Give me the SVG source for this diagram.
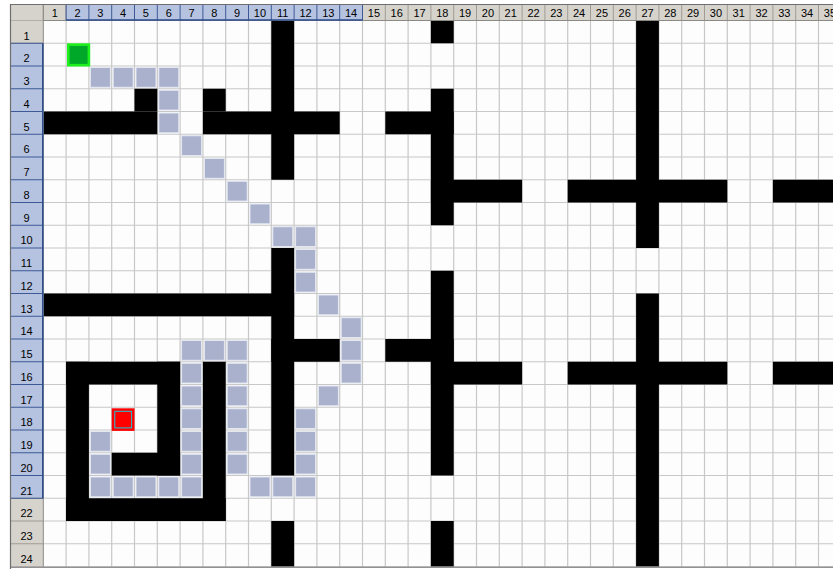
<svg xmlns="http://www.w3.org/2000/svg" width="833" height="569" viewBox="0 0 833 569">
<style>
.hd{font-family:"Liberation Sans",Arial,sans-serif;font-size:11px;fill:#000;text-anchor:middle}
.wall{fill:#000}
.grid{stroke:#c8c8c8;stroke-width:1.2;fill:none}
.hsepg{stroke:#a09c94;stroke-width:1;fill:none}
.hsepb{stroke:#3d5a96;stroke-width:1;fill:none}
</style>
<defs>
<rect id="p" width="20" height="19.8" fill="#a9b1cd" stroke="#e4e8f1" stroke-width="1"/>
</defs>
<rect x="0" y="0" width="833" height="569" fill="#fff"/>
<g id="cells">
<rect x="43.3" y="20.5" width="790" height="546" fill="#fdfdfd"/>
<path class="grid" d="M66.1 20.5V566.5M88.9 20.5V566.5M111.7 20.5V566.5M134.5 20.5V566.5M157.3 20.5V566.5M180.1 20.5V566.5M202.9 20.5V566.5M225.7 20.5V566.5M248.5 20.5V566.5M271.3 20.5V566.5M294.1 20.5V566.5M316.9 20.5V566.5M339.7 20.5V566.5M362.5 20.5V566.5M385.3 20.5V566.5M408.1 20.5V566.5M430.9 20.5V566.5M453.7 20.5V566.5M476.5 20.5V566.5M499.3 20.5V566.5M522.1 20.5V566.5M544.9 20.5V566.5M567.7 20.5V566.5M590.5 20.5V566.5M613.3 20.5V566.5M636.1 20.5V566.5M658.9 20.5V566.5M681.7 20.5V566.5M704.5 20.5V566.5M727.3 20.5V566.5M750.1 20.5V566.5M772.9 20.5V566.5M795.7 20.5V566.5M818.5 20.5V566.5M43.3 43.25H833M43.3 66H833M43.3 88.75H833M43.3 111.5H833M43.3 134.25H833M43.3 157H833M43.3 179.75H833M43.3 202.5H833M43.3 225.25H833M43.3 248H833M43.3 270.75H833M43.3 293.5H833M43.3 316.25H833M43.3 339H833M43.3 361.75H833M43.3 384.5H833M43.3 407.25H833M43.3 430H833M43.3 452.75H833M43.3 475.5H833M43.3 498.25H833M43.3 521H833M43.3 543.75H833"/>
</g>
<g id="walls" class="wall">
<rect x="271.3" y="20.5" width="22.8" height="159.25"/>
<rect x="430.9" y="20.5" width="22.8" height="22.75"/>
<rect x="636.1" y="20.5" width="22.8" height="227.5"/>
<rect x="134.5" y="88.75" width="22.8" height="22.75"/>
<rect x="202.9" y="88.75" width="22.8" height="22.75"/>
<rect x="430.9" y="88.75" width="22.8" height="136.5"/>
<rect x="43.3" y="111.5" width="114" height="22.75"/>
<rect x="202.9" y="111.5" width="136.8" height="22.75"/>
<rect x="385.3" y="111.5" width="68.4" height="22.75"/>
<rect x="430.9" y="179.75" width="91.2" height="22.75"/>
<rect x="567.7" y="179.75" width="159.6" height="22.75"/>
<rect x="772.9" y="179.75" width="61" height="22.75"/>
<rect x="271.3" y="248" width="22.8" height="227.5"/>
<rect x="430.9" y="270.75" width="22.8" height="204.75"/>
<rect x="636.1" y="293.5" width="22.8" height="273"/>
<rect x="43.3" y="293.5" width="250.8" height="22.75"/>
<rect x="271.3" y="339" width="68.4" height="22.75"/>
<rect x="385.3" y="339" width="68.4" height="22.75"/>
<rect x="430.9" y="361.75" width="91.2" height="22.75"/>
<rect x="567.7" y="361.75" width="159.6" height="22.75"/>
<rect x="772.9" y="361.75" width="61" height="22.75"/>
<rect x="66.1" y="361.75" width="114" height="22.75"/>
<rect x="66.1" y="361.75" width="22.8" height="159.25"/>
<rect x="66.1" y="498.25" width="159.6" height="22.75"/>
<rect x="202.9" y="361.75" width="22.8" height="159.25"/>
<rect x="157.3" y="361.75" width="22.8" height="113.75"/>
<rect x="111.7" y="452.75" width="68.4" height="22.75"/>
<rect x="271.3" y="521" width="22.8" height="45.5"/>
<rect x="430.9" y="521" width="22.8" height="45.5"/>
</g>
<g id="path">
<use href="#p" x="90.4" y="67.5"/>
<use href="#p" x="113.2" y="67.5"/>
<use href="#p" x="136" y="67.5"/>
<use href="#p" x="158.8" y="67.5"/>
<use href="#p" x="158.8" y="90.25"/>
<use href="#p" x="158.8" y="113"/>
<use href="#p" x="181.6" y="135.75"/>
<use href="#p" x="204.4" y="158.5"/>
<use href="#p" x="227.2" y="181.25"/>
<use href="#p" x="250" y="204"/>
<use href="#p" x="272.8" y="226.75"/>
<use href="#p" x="295.6" y="226.75"/>
<use href="#p" x="295.6" y="249.5"/>
<use href="#p" x="295.6" y="272.25"/>
<use href="#p" x="318.4" y="295"/>
<use href="#p" x="341.2" y="317.75"/>
<use href="#p" x="341.2" y="340.5"/>
<use href="#p" x="341.2" y="363.25"/>
<use href="#p" x="318.4" y="386"/>
<use href="#p" x="295.6" y="408.75"/>
<use href="#p" x="295.6" y="431.5"/>
<use href="#p" x="295.6" y="454.25"/>
<use href="#p" x="295.6" y="477"/>
<use href="#p" x="272.8" y="477"/>
<use href="#p" x="250" y="477"/>
<use href="#p" x="227.2" y="454.25"/>
<use href="#p" x="227.2" y="431.5"/>
<use href="#p" x="227.2" y="408.75"/>
<use href="#p" x="227.2" y="386"/>
<use href="#p" x="227.2" y="363.25"/>
<use href="#p" x="227.2" y="340.5"/>
<use href="#p" x="204.4" y="340.5"/>
<use href="#p" x="181.6" y="340.5"/>
<use href="#p" x="181.6" y="363.25"/>
<use href="#p" x="181.6" y="386"/>
<use href="#p" x="181.6" y="408.75"/>
<use href="#p" x="181.6" y="431.5"/>
<use href="#p" x="181.6" y="454.25"/>
<use href="#p" x="181.6" y="477"/>
<use href="#p" x="158.8" y="477"/>
<use href="#p" x="136" y="477"/>
<use href="#p" x="113.2" y="477"/>
<use href="#p" x="90.4" y="477"/>
<use href="#p" x="90.4" y="454.25"/>
<use href="#p" x="90.4" y="431.5"/>
</g>
<g id="start">
<rect x="68.3" y="44.6" width="20.6" height="20.6" fill="#00a82a" stroke="#1ef01e" stroke-width="2.6"/>
</g>
<g id="goal">
<rect x="111.7" y="408.3" width="22.8" height="22.6" fill="#ff0000"/>
<rect x="114.8" y="411.3" width="16.8" height="16.6" fill="#ff0000" stroke="#19c8d8" stroke-width="1"/>
</g>
<g id="col-headers">
<rect x="10" y="4" width="823" height="16.5" fill="#d6d3cc"/>
<rect x="66.1" y="4" width="296.4" height="16.5" fill="#b6c3e0"/>
<path class="hsepg" d="M43.3 4V20.5M66.1 4V20.5M385.3 4V20.5M408.1 4V20.5M430.9 4V20.5M453.7 4V20.5M476.5 4V20.5M499.3 4V20.5M522.1 4V20.5M544.9 4V20.5M567.7 4V20.5M590.5 4V20.5M613.3 4V20.5M636.1 4V20.5M658.9 4V20.5M681.7 4V20.5M704.5 4V20.5M727.3 4V20.5M750.1 4V20.5M772.9 4V20.5M795.7 4V20.5M818.5 4V20.5"/>
<path class="hsepb" d="M66.1 4V20.5M88.9 4V20.5M111.7 4V20.5M134.5 4V20.5M157.3 4V20.5M180.1 4V20.5M202.9 4V20.5M225.7 4V20.5M248.5 4V20.5M271.3 4V20.5M294.1 4V20.5M316.9 4V20.5M339.7 4V20.5M362.5 4V20.5"/>
<path d="M10 20.5H833" stroke="#8c8a84" stroke-width="1"/>
<path d="M66.1 20H362.5" stroke="#2b4a8c" stroke-width="1.5"/>
<text class="hd" x="54.7" y="16.5">1</text>
<text class="hd" x="77.5" y="16.5">2</text>
<text class="hd" x="100.3" y="16.5">3</text>
<text class="hd" x="123.1" y="16.5">4</text>
<text class="hd" x="145.9" y="16.5">5</text>
<text class="hd" x="168.7" y="16.5">6</text>
<text class="hd" x="191.5" y="16.5">7</text>
<text class="hd" x="214.3" y="16.5">8</text>
<text class="hd" x="237.1" y="16.5">9</text>
<text class="hd" x="259.9" y="16.5">10</text>
<text class="hd" x="282.7" y="16.5">11</text>
<text class="hd" x="305.5" y="16.5">12</text>
<text class="hd" x="328.3" y="16.5">13</text>
<text class="hd" x="351.1" y="16.5">14</text>
<text class="hd" x="373.9" y="16.5">15</text>
<text class="hd" x="396.7" y="16.5">16</text>
<text class="hd" x="419.5" y="16.5">17</text>
<text class="hd" x="442.3" y="16.5">18</text>
<text class="hd" x="465.1" y="16.5">19</text>
<text class="hd" x="487.9" y="16.5">20</text>
<text class="hd" x="510.7" y="16.5">21</text>
<text class="hd" x="533.5" y="16.5">22</text>
<text class="hd" x="556.3" y="16.5">23</text>
<text class="hd" x="579.1" y="16.5">24</text>
<text class="hd" x="601.9" y="16.5">25</text>
<text class="hd" x="624.7" y="16.5">26</text>
<text class="hd" x="647.5" y="16.5">27</text>
<text class="hd" x="670.3" y="16.5">28</text>
<text class="hd" x="693.1" y="16.5">29</text>
<text class="hd" x="715.9" y="16.5">30</text>
<text class="hd" x="738.7" y="16.5">31</text>
<text class="hd" x="761.5" y="16.5">32</text>
<text class="hd" x="784.3" y="16.5">33</text>
<text class="hd" x="807.1" y="16.5">34</text>
<text class="hd" x="829.9" y="16.5">35</text>
</g>
<g id="row-headers">
<rect x="10" y="20.5" width="33.3" height="546" fill="#d6d3cc"/>
<rect x="10" y="43.25" width="33.3" height="455" fill="#b6c3e0"/>
<path class="hsepg" d="M10 43.25H43.3M10 498.25H43.3M10 521H43.3M10 543.75H43.3"/>
<path class="hsepb" d="M10 43.25H43.3M10 66H43.3M10 88.75H43.3M10 111.5H43.3M10 134.25H43.3M10 157H43.3M10 179.75H43.3M10 202.5H43.3M10 225.25H43.3M10 248H43.3M10 270.75H43.3M10 293.5H43.3M10 316.25H43.3M10 339H43.3M10 361.75H43.3M10 384.5H43.3M10 407.25H43.3M10 430H43.3M10 452.75H43.3M10 475.5H43.3M10 498.25H43.3"/>
<path d="M43.3 4V566.5" stroke="#8c8a84" stroke-width="1"/>
<path d="M42.8 43.25V498.25" stroke="#2b4a8c" stroke-width="1.5"/>
<text class="hd" x="26.5" y="39.5">1</text>
<text class="hd" x="26.5" y="62.25">2</text>
<text class="hd" x="26.5" y="85">3</text>
<text class="hd" x="26.5" y="107.75">4</text>
<text class="hd" x="26.5" y="130.5">5</text>
<text class="hd" x="26.5" y="153.25">6</text>
<text class="hd" x="26.5" y="176">7</text>
<text class="hd" x="26.5" y="198.75">8</text>
<text class="hd" x="26.5" y="221.5">9</text>
<text class="hd" x="26.5" y="244.25">10</text>
<text class="hd" x="26.5" y="267">11</text>
<text class="hd" x="26.5" y="289.75">12</text>
<text class="hd" x="26.5" y="312.5">13</text>
<text class="hd" x="26.5" y="335.25">14</text>
<text class="hd" x="26.5" y="358">15</text>
<text class="hd" x="26.5" y="380.75">16</text>
<text class="hd" x="26.5" y="403.5">17</text>
<text class="hd" x="26.5" y="426.25">18</text>
<text class="hd" x="26.5" y="449">19</text>
<text class="hd" x="26.5" y="471.75">20</text>
<text class="hd" x="26.5" y="494.5">21</text>
<text class="hd" x="26.5" y="517.25">22</text>
<text class="hd" x="26.5" y="540">23</text>
<text class="hd" x="26.5" y="562.75">24</text>
</g>
<g id="frame" fill="none" stroke="#6e6e6e" stroke-width="1.2">
<path d="M10.5 569V4.5H833"/>
<path d="M10 567.2H833"/>
</g>
</svg>
